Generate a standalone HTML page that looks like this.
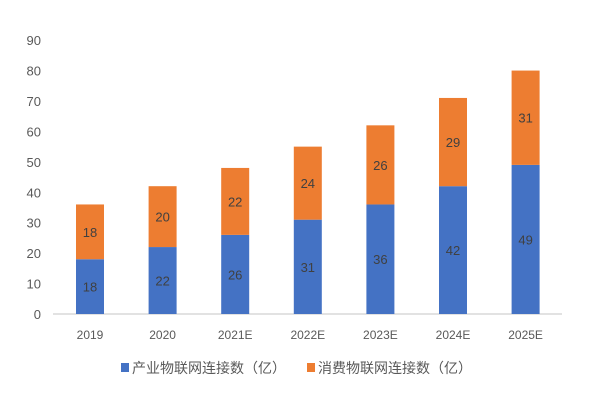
<!DOCTYPE html>
<html><head><meta charset="utf-8"><style>
body{margin:0;background:#fff;}
svg text{font-family:"Liberation Sans","Noto Sans CJK SC",sans-serif;}
</style></head><body>
<svg width="600" height="400" id="c"></svg>
<script>
const categories=["2019","2020","2021E","2022E","2023E","2024E","2025E"];
const industrial=[18,22,26,31,36,42,49];
const consumer=[18,20,22,24,26,29,31];
const yTicks=[0,10,20,30,40,50,60,70,80,90];
const NS="http://www.w3.org/2000/svg";
const svg=document.getElementById('c');
const y0=314,pxPer=3.043,x0=90,step=72.6,bw=28;
const Y=v=>y0-v*pxPer, X=i=>x0+i*step;
function mk(t,a,txt){const e=document.createElementNS(NS,t);for(const k in a)e.setAttribute(k,a[k]);if(txt!==undefined)e.textContent=txt;svg.appendChild(e);return e;}
yTicks.forEach(v=>{const t=mk('text',{x:41,y:Y(v)+5,'text-anchor':'end','font-size':13,fill:'#595959'},v);

});
const ax=mk('line',{x1:53,x2:562,y1:y0,y2:y0,stroke:'#d9d9d9','stroke-width':1.5});


categories.forEach((c,i)=>{
const a=industrial[i],b=consumer[i];
const r1=mk('rect',{x:X(i)-bw/2,y:Y(a),width:bw,height:Y(0)-Y(a),fill:'#4472c4'});


const r2=mk('rect',{x:X(i)-bw/2,y:Y(a+b),width:bw,height:Y(a)-Y(a+b),fill:'#ed7d31'});


const l1=mk('text',{x:X(i),y:(Y(0)+Y(a))/2+5,'text-anchor':'middle','font-size':13,fill:'#404040'},a);


const l2=mk('text',{x:X(i),y:(Y(a)+Y(a+b))/2+5,'text-anchor':'middle','font-size':13,fill:'#404040'},b);


const xl=mk('text',{x:X(i),y:339,'text-anchor':'middle','font-size':12,fill:'#595959'},c);


});
</script>
<div style="position:absolute;left:0;top:0"></div>
<svg width="600" height="400" style="position:absolute;left:0;top:0">
<rect x="121" y="363" width="8" height="9" fill="#4472c4"/>
<text x="132" y="373" font-size="14" fill="#595959" font-family="Liberation Sans, Noto Sans CJK SC, sans-serif">产业物联网连接数（亿）</text>
<rect x="307" y="363" width="8" height="9" fill="#ed7d31"/>
<text x="318" y="373" font-size="14" fill="#595959" font-family="Liberation Sans, Noto Sans CJK SC, sans-serif">消费物联网连接数（亿）</text>
</svg>
</body></html>
